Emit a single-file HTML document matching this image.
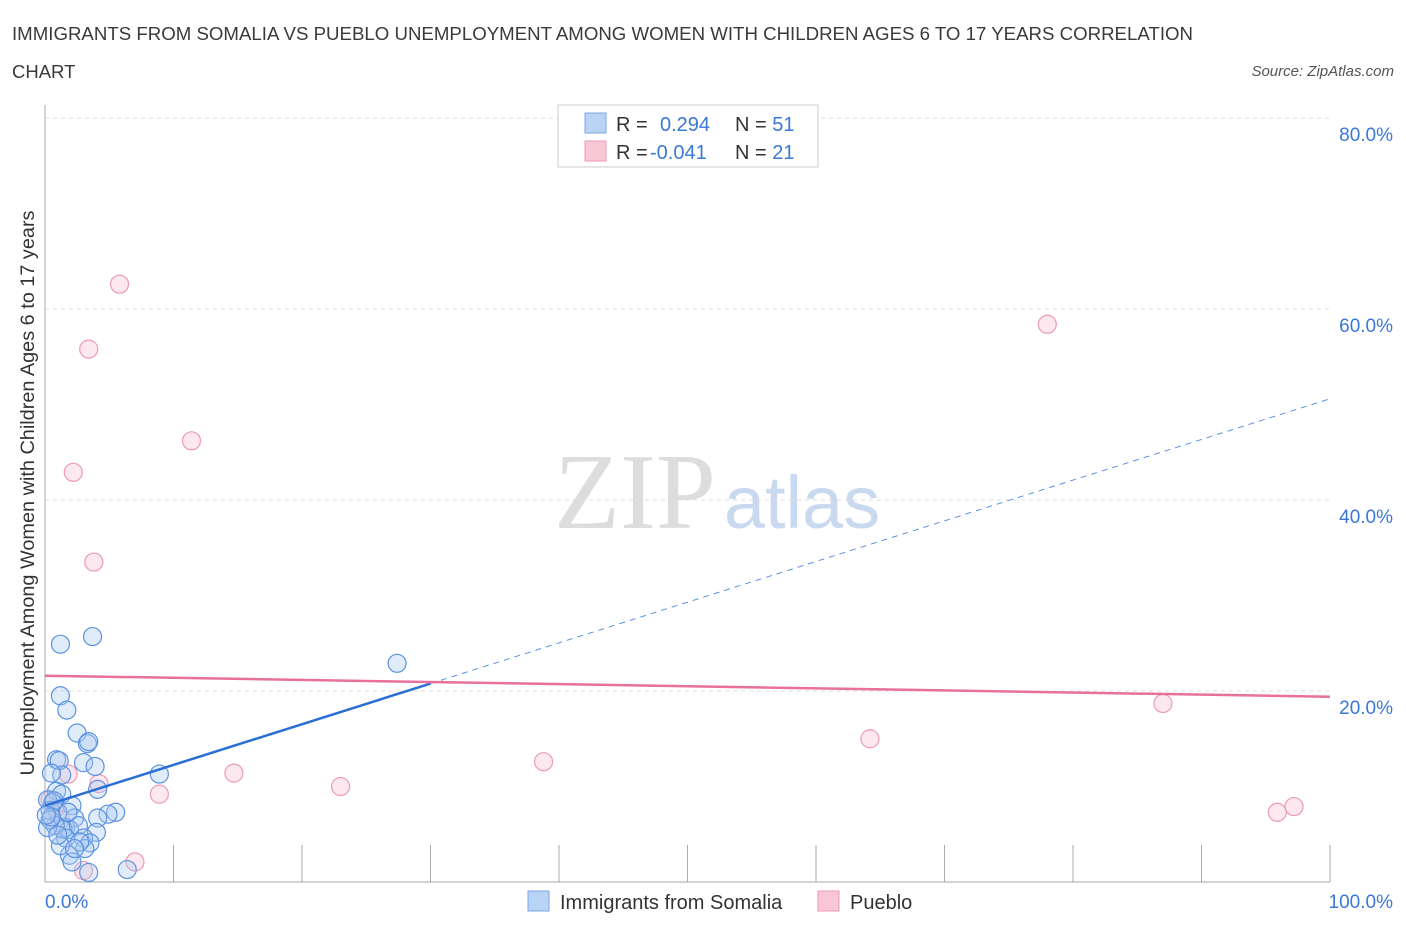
<!DOCTYPE html>
<html><head><meta charset="utf-8"><style>
body{margin:0;background:#fff;font-family:"Liberation Sans",sans-serif;}
</style></head><body>
<svg id="chart" width="1406" height="930" xmlns="http://www.w3.org/2000/svg">
<text x="12" y="40" font-size="18.5" fill="#3a3a3a" textLength="1181" lengthAdjust="spacingAndGlyphs">IMMIGRANTS FROM SOMALIA VS PUEBLO UNEMPLOYMENT AMONG WOMEN WITH CHILDREN AGES 6 TO 17 YEARS CORRELATION</text>
<text x="12" y="78" font-size="18.5" fill="#3a3a3a">CHART</text>
<text x="1394" y="76" font-size="15" fill="#555" font-style="italic" text-anchor="end">Source: ZipAtlas.com</text>
<text x="635" y="528" font-size="108" fill="#ddd" font-family="Liberation Serif,serif" text-anchor="middle">ZIP</text>
<text x="802" y="528" font-size="74" fill="#c9d9f0" text-anchor="middle">atlas</text>
<text transform="translate(34,493) rotate(-90)" font-size="19" fill="#333" text-anchor="middle" textLength="565" lengthAdjust="spacingAndGlyphs">Unemployment Among Women with Children Ages 6 to 17 years</text>
<g id="grid"></g><g id="marks"></g>
<g>
<rect x="558" y="105" width="260" height="62" fill="#fff" stroke="#ccc"/>
<rect x="585" y="113" width="21" height="20" fill="#b9d3f5" stroke="#7aa7e6"/>
<rect x="585" y="141" width="21" height="20" fill="#f9c6d6" stroke="#ee9ab5"/>
<text x="616" y="131" font-size="20" fill="#333">R = <tspan x="660" fill="#3a78d8">0.294</tspan><tspan x="735">N = </tspan><tspan fill="#3a78d8">51</tspan></text>
<text x="616" y="159" font-size="20" fill="#333">R = <tspan x="650" fill="#3a78d8">-0.041</tspan><tspan x="735">N = </tspan><tspan fill="#3a78d8">21</tspan></text>
</g>
<g>
<rect x="528" y="891" width="21" height="20" fill="#b9d3f5" stroke="#7aa7e6"/>
<text x="560" y="909" font-size="20" fill="#333">Immigrants from Somalia</text>
<rect x="818" y="891" width="21" height="20" fill="#f9c6d6" stroke="#ee9ab5"/>
<text x="850" y="909" font-size="20" fill="#333">Pueblo</text>
</g>
</svg>
<script>
const yTicks=[20,40,60,80];
const xTickLabels=["0.0%","100.0%"];
const blueX=[1.2,3.7,27.4,1.2,1.7,2.5,3.3,3.4,0.9,1.1,3.0,3.9,1.3,0.5,8.9,4.1,0.9,1.3,2.1,0.6,0.2,0.4,1.0,2.3,1.6,5.5,4.9,4.1,1.9,1.4,0.8,2.6,4.0,3.0,1.6,3.5,3.1,1.9,2.1,6.4,3.4,0.4,0.2,1.2,0.7,2.7,1.8,0.5,1.0,2.3,0.1];
const blueY=[24.9,25.7,22.9,19.5,18.0,15.6,14.5,14.7,12.8,12.7,12.5,12.1,11.2,11.4,11.3,9.7,9.5,9.2,8.0,8.3,8.6,7.5,7.3,6.7,5.7,7.3,7.1,6.7,5.5,5.5,5.9,5.9,5.2,4.6,4.6,4.1,3.5,2.8,2.1,1.3,1.0,6.5,5.7,3.8,8.5,4.2,7.3,6.8,4.9,3.5,7.0];
const pinkX=[5.8,3.4,11.4,2.2,3.8,78.0,87.0,64.2,14.7,38.8,23.0,8.9,4.2,1.8,95.9,97.2,7.0,3.0,0.4,0.8,1.2];
const pinkY=[62.6,55.8,46.2,42.9,33.5,58.4,18.7,15.0,11.4,12.6,10.0,9.2,10.3,11.3,7.3,7.9,2.1,1.2,8.6,7.7,6.5];
const blueFit=[8.0,50.6];
const pinkFit=[21.6,19.4];
const X=v=>45+v*12.85, Y=v=>882-v*9.55;
const NS="http://www.w3.org/2000/svg";
const grid=document.getElementById('grid'), marks=document.getElementById('marks');
function mk(tag,a,p){const e=document.createElementNS(NS,tag);for(const k in a)e.setAttribute(k,a[k]);p.appendChild(e);return e;}
yTicks.forEach(t=>{
 const l=mk('line',{x1:45,x2:1330,y1:Y(t),y2:Y(t),stroke:'#ddd','stroke-dasharray':'4,4'},grid);
 
 
 const tx=mk('text',{x:1393,y:Y(t)+23,'font-size':19,fill:'#3a78d8','text-anchor':'end'},grid);
 tx.textContent=t.toFixed(1)+'%';
 
 
});
const topGrid=mk('line',{x1:45,x2:1330,y1:118,y2:118,stroke:'#ddd','stroke-dasharray':'4,4'},grid);


const ax=mk('line',{x1:45,x2:1330,y1:882,y2:882,stroke:'#aaa'},grid);


const ay=mk('line',{x1:45,x2:45,y1:105,y2:882,stroke:'#aaa'},grid);


for(let i=0;i<=10;i++){const t=mk('line',{x1:X(i*10),x2:X(i*10),y1:845,y2:882,stroke:'#aaa'},grid);
 
 }
xTickLabels.forEach((s,i)=>{const t=mk('text',{x:i?1393:45,y:908,'font-size':19,fill:'#3a78d8','text-anchor':i?'end':'start'},grid);t.textContent=s;
 
 });
pinkX.forEach((x,i)=>{const c=mk('circle',{cx:X(x),cy:Y(pinkY[i]),r:9,fill:'rgba(249,190,208,0.35)',stroke:'#ec9ab4','stroke-width':1.2},marks);
 
 });
blueX.forEach((x,i)=>{const c=mk('circle',{cx:X(x),cy:Y(blueY[i]),r:9,fill:'rgba(170,200,240,0.35)',stroke:'#5b93e0','stroke-width':1.2},marks);
 
 });
const bAt=x=>blueFit[0]+(blueFit[1]-blueFit[0])*x/100;
const bs=mk('line',{x1:X(0),y1:Y(bAt(0)),x2:X(30),y2:Y(bAt(30)),stroke:'#2a6fd6','stroke-width':2.5},marks);


const bd=mk('line',{x1:X(30),y1:Y(bAt(30)),x2:X(100),y2:Y(bAt(100)),stroke:'#5b93e0','stroke-width':1,'stroke-dasharray':'6,5'},marks);


const pl=mk('line',{x1:X(0),y1:Y(pinkFit[0]),x2:X(100),y2:Y(pinkFit[1]),stroke:'#e8709a','stroke-width':2.5},marks);


</script>
</body></html>
